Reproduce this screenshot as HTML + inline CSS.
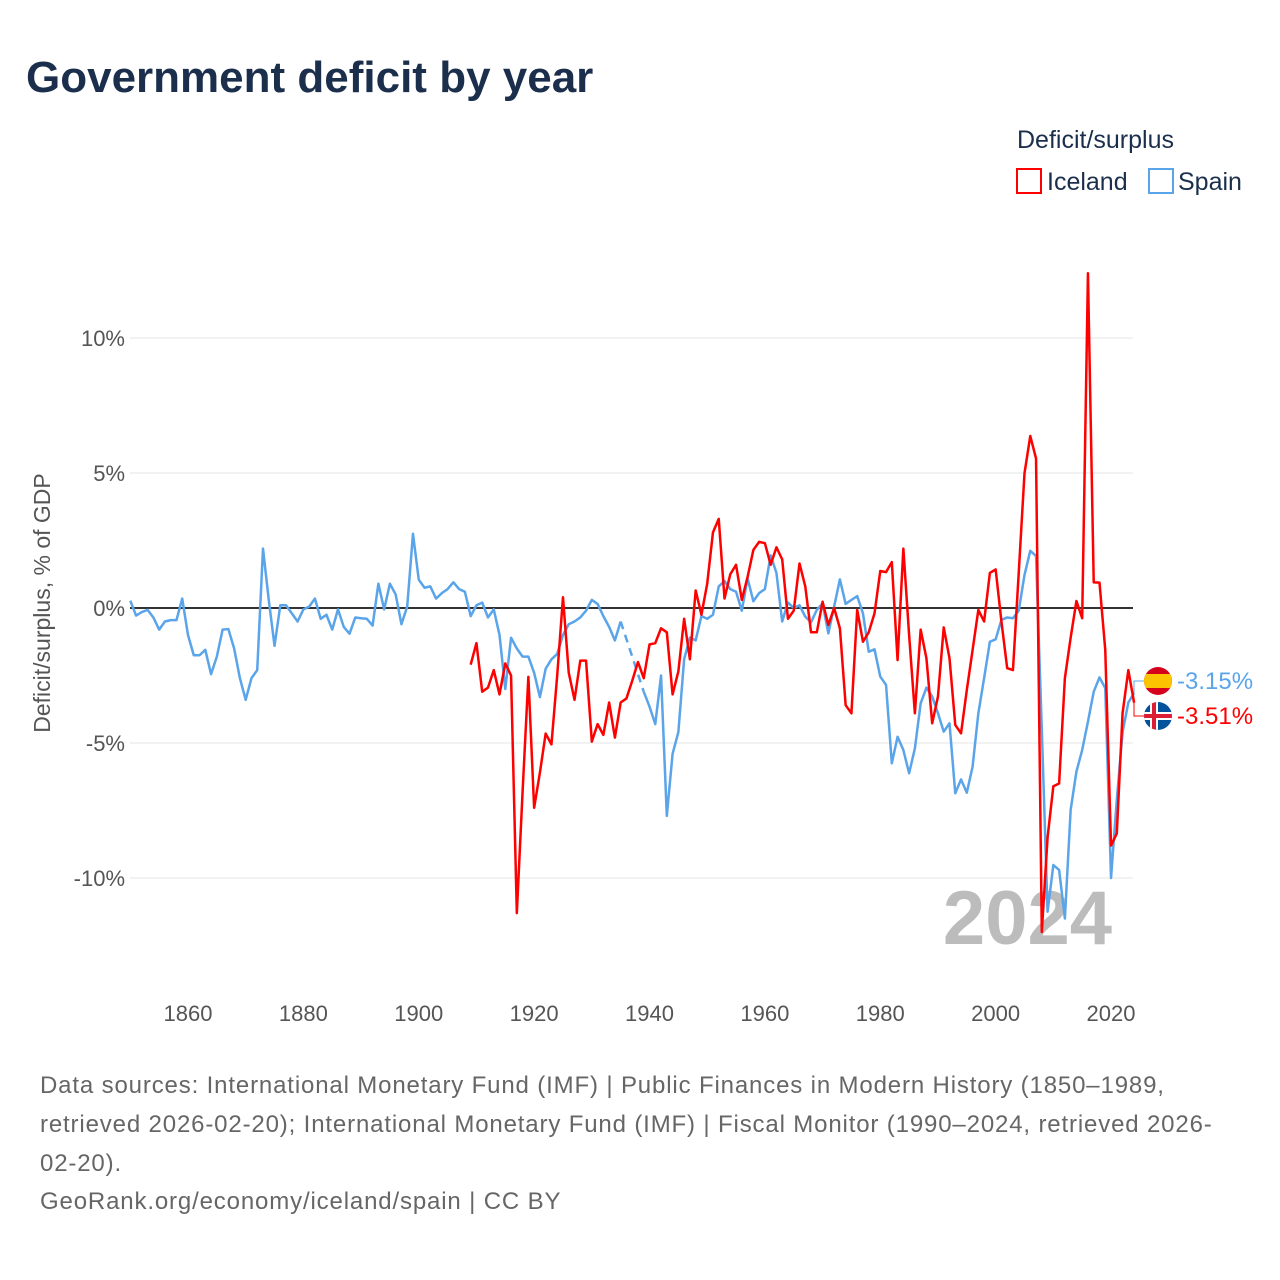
<!DOCTYPE html>
<html><head><meta charset="utf-8"><style>
body{margin:0;background:#fff;}
svg{display:block;font-family:"Liberation Sans",sans-serif;}
</style></head><body>
<svg id="chart" width="1280" height="1280" viewBox="0 0 1280 1280" xmlns="http://www.w3.org/2000/svg">
<rect width="1280" height="1280" fill="#fff"/>
<text x="26" y="92" font-size="44" font-weight="bold" fill="#1b2f4d">Government deficit by year</text>
<text x="1017" y="148" font-size="25" fill="#1b2f4d">Deficit/surplus</text>
<g><rect x="1017" y="169" width="24" height="24" fill="none" stroke="#ff0000" stroke-width="2"/><text x="1047" y="190" font-size="25" fill="#1b2f4d">Iceland</text></g>
<g><rect x="1149" y="169" width="24" height="24" fill="none" stroke="#5aa4ea" stroke-width="2"/><text x="1178" y="190" font-size="25" fill="#1b2f4d">Spain</text></g>
<text transform="translate(50,603) rotate(-90)" text-anchor="middle" font-size="23" fill="#555">Deficit/surplus, % of GDP</text>
<g id="grid"></g>
<text x="1112" y="944" text-anchor="end" font-size="76" font-weight="bold" fill="#bcbcbc">2024</text>
<g id="series"></g>
<g id="endlabels"></g>
<g font-size="24" fill="#666" letter-spacing="0.85">
<text x="40" y="1093">Data sources: International Monetary Fund (IMF) | Public Finances in Modern History (1850–1989,</text>
<text x="40" y="1132">retrieved 2026-02-20); International Monetary Fund (IMF) | Fiscal Monitor (1990–2024, retrieved 2026-</text>
<text x="40" y="1171">02-20).</text>
<text x="40" y="1209">GeoRank.org/economy/iceland/spain | CC BY</text>
</g>
</svg>
<script>
const yTicks=[10,5,0,-5,-10];
const yTickLabels=["10%","5%","0%","-5%","-10%"];
const xTicks=[1860,1880,1900,1920,1940,1960,1980,2000,2020];
const spainStart=1850;
const spainValues=[0.27,-0.28,-0.15,-0.07,-0.35,-0.8,-0.5,-0.45,-0.45,0.35,-1.0,-1.75,-1.75,-1.55,-2.45,-1.8,-0.8,-0.78,-1.5,-2.6,-3.4,-2.6,-2.3,2.2,0.3,-1.4,0.1,0.1,-0.2,-0.5,-0.05,0.05,0.35,-0.4,-0.25,-0.8,-0.05,-0.7,-0.95,-0.35,-0.38,-0.4,-0.65,0.9,-0.05,0.9,0.5,-0.6,0.05,2.75,1.05,0.75,0.8,0.35,0.55,0.7,0.95,0.7,0.6,-0.3,0.1,0.2,-0.35,-0.05,-1.0,-3.0,-1.1,-1.5,-1.8,-1.8,-2.4,-3.3,-2.25,-1.9,-1.7,-1.0,-0.6,-0.5,-0.35,-0.1,0.3,0.15,-0.3,-0.7,-1.2,-0.5,null,null,null,-3.1,-3.65,-4.3,-2.5,-7.7,-5.4,-4.6,-1.9,-1.1,-1.2,-0.3,-0.4,-0.25,0.8,1.0,0.7,0.6,-0.1,1.1,0.25,0.55,0.7,1.95,1.3,-0.5,0.2,0.0,0.1,-0.32,-0.53,-0.07,0.17,-0.94,0.05,1.06,0.15,0.3,0.44,-0.2,-1.62,-1.53,-2.54,-2.85,-5.75,-4.77,-5.26,-6.12,-5.2,-3.53,-2.95,-3.28,-3.9,-4.58,-4.27,-6.86,-6.35,-6.84,-5.88,-3.9,-2.6,-1.25,-1.16,-0.44,-0.35,-0.38,-0.1,1.22,2.12,1.93,-4.5,-11.25,-9.52,-9.7,-11.5,-7.48,-6.06,-5.26,-4.21,-3.1,-2.57,-2.97,-10.0,-7.1,-4.6,-3.5,-3.15];
const icelandStart=1909;
const icelandValues=[-2.1,-1.3,-3.1,-2.95,-2.3,-3.2,-2.05,-2.5,-11.3,-6.8,-2.55,-7.4,-6.1,-4.65,-5.05,-2.5,0.4,-2.4,-3.4,-1.95,-1.95,-4.95,-4.3,-4.7,-3.5,-4.8,-3.5,-3.35,-2.7,-2.0,-2.6,-1.35,-1.3,-0.75,-0.9,-3.2,-2.35,-0.4,-1.9,0.65,-0.25,0.9,2.8,3.3,0.35,1.25,1.6,0.3,1.15,2.15,2.45,2.4,1.6,2.25,1.8,-0.4,-0.1,1.65,0.8,-0.9,-0.9,0.23,-0.63,0.0,-0.75,-3.6,-3.9,-0.07,-1.25,-0.9,-0.2,1.37,1.33,1.7,-1.93,2.2,-1.0,-3.9,-0.8,-1.86,-4.27,-3.28,-0.72,-1.86,-4.33,-4.64,-3.04,-1.56,-0.07,-0.5,1.3,1.43,-0.5,-2.23,-2.3,1.3,4.99,6.37,5.54,-12.0,-8.5,-6.6,-6.5,-2.6,-1.1,0.26,-0.38,12.4,0.95,0.94,-1.55,-8.8,-8.35,-3.9,-2.3,-3.51];

const NS="http://www.w3.org/2000/svg";
const X=y=>130.3+(y-1850)*5.769;
const Y=v=>608-v*27;
function mk(tag,attrs,parent){const e=document.createElementNS(NS,tag);for(const k in attrs)e.setAttribute(k,attrs[k]);parent.appendChild(e);return e;}
const grid=document.getElementById('grid');
yTicks.forEach((t,i)=>{
  const l=mk('line',{x1:130,x2:1133,y1:Y(t),y2:Y(t),stroke:t===0?'#333':'#e6e6e6','stroke-width':t===0?2:1},grid);
  
  
  const tx=mk('text',{x:125,y:Y(t)+8,'text-anchor':'end','font-size':22,fill:'#555'},grid);
  tx.textContent=yTickLabels[i];
  
  
});
xTicks.forEach(t=>{
  const tx=mk('text',{x:X(t),y:1021,'text-anchor':'middle','font-size':22,fill:'#555'},grid);
  tx.textContent=t;
  
  
});
const series=document.getElementById('series');
function draw(start,vals,color,name){
  const g=mk('g',{},series);
  
  
  let segs=[],cur=[],last=null;
  vals.forEach((v,i)=>{
    if(v===null){if(cur.length){segs.push(cur);}cur=[];return;}
    const p=[X(start+i),Y(v)];
    if(!cur.length&&last){mk('line',{x1:last[0],y1:last[1],x2:p[0],y2:p[1],stroke:color,'stroke-width':2.5,'stroke-dasharray':'8,6'},g);}
    cur.push(p);last=p;
  });
  if(cur.length)segs.push(cur);
  segs.forEach(s=>mk('polyline',{points:s.map(p=>p.join(',')).join(' '),fill:'none',stroke:color,'stroke-width':2.5,'stroke-linejoin':'round'},g));
}
draw(spainStart,spainValues,'#5aa4ea','spain-line');
draw(icelandStart,icelandValues,'#ff0000','iceland-line');
</script>
<script>
(function(){
const el=document.getElementById('endlabels');
el.innerHTML=`
<g>
<polyline points="1134,${Y(spainValues[spainValues.length-1])} 1134,681 1144,681" fill="none" stroke="#5aa4ea" stroke-width="1"/>
<clipPath id="c1"><circle cx="1158" cy="681" r="14"/></clipPath>
<g clip-path="url(#c1)"><rect x="1144" y="667" width="28" height="28" fill="#d5001c"/><rect x="1144" y="674" width="28" height="14" fill="#fcc400"/></g>
<text x="1177" y="689" font-size="24" fill="#5aa4ea">-3.15%</text></g>
<g>
<polyline points="1134,${Y(icelandValues[icelandValues.length-1])} 1134,716 1144,716" fill="none" stroke="#ff0000" stroke-width="1"/>
<clipPath id="c2"><circle cx="1158" cy="716" r="14"/></clipPath>
<g clip-path="url(#c2)"><rect x="1144" y="702" width="28" height="28" fill="#02529c"/><rect x="1144" y="712" width="28" height="8" fill="#fff"/><rect x="1150" y="702" width="8" height="28" fill="#fff"/><rect x="1144" y="714" width="28" height="4" fill="#dc1e35"/><rect x="1152" y="702" width="4" height="28" fill="#dc1e35"/></g>
<text x="1177" y="724" font-size="24" fill="#ff0000">-3.51%</text></g>`;
})();
</script>
</body></html>
